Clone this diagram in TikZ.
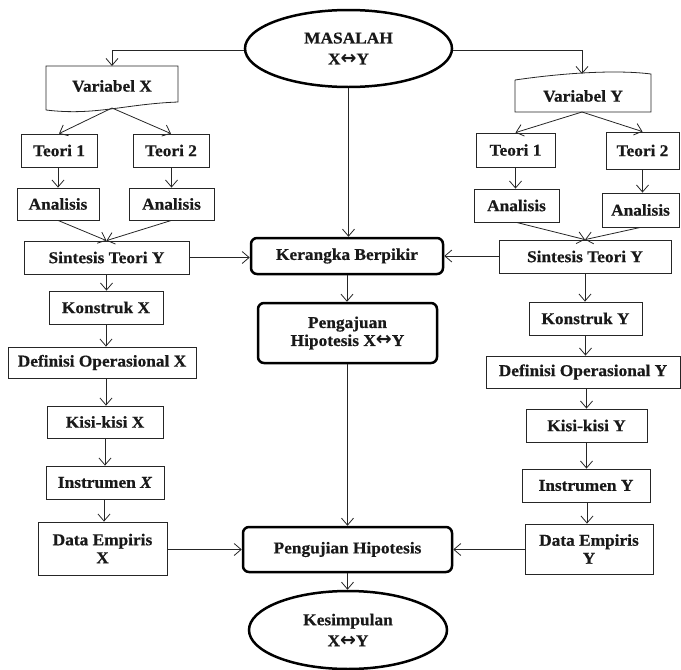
\documentclass[tikz,border=0pt]{standalone}
\usepackage{fontspec}
\setmainfont{Liberation Serif}[FakeStretch=1.05,FakeBold=0.6]
\newfontfamily\arrowfont{DejaVu Sans}
\usetikzlibrary{arrows.meta,shapes.geometric}

% bold two-headed arrow used between X and Y
\newcommand{\xyarrow}{{\arrowfont\bfseries\fontsize{19}{19}\selectfont ↔}}

\tikzset{
  lbl/.style={font=\fontsize{16.5}{18}\selectfont\bfseries, align=center, inner sep=0pt, text=black!90},
  box/.style={lbl, draw=black!85, line width=0.8pt},
  bold box/.style={lbl, draw=black, line width=2.5pt, rounded corners=6pt},
  oval/.style={lbl, ellipse, draw=black, line width=2.5pt, font=\fontsize{16.5}{21}\selectfont\bfseries},
  flow/.style={draw=black!85, line width=0.8pt, -{Straight Barb[length=7pt,width=12pt]}},
  wave/.style={draw=black!85, line width=0.8pt},
}

\begin{document}
\begin{tikzpicture}[x=1pt,y=-1pt]
\useasboundingbox (0,0) rectangle (681,670);

% ---- centre column
\node[oval, minimum width=207, minimum height=77] (mas) at (348.5,48.5) {MASALAH\\X\xyarrow Y};
\node[bold box, minimum width=192, minimum height=36] (ker) at (347,256) {Kerangka Berpikir};
\node[bold box, minimum width=179, minimum height=60] (peng) at (347.5,333) {Pengajuan\\Hipotesis X\xyarrow Y};
\node[bold box, minimum width=209, minimum height=45] (uji) at (347.5,549.5) {Pengujian Hipotesis};
\node[oval, minimum width=198, minimum height=78] (kes) at (348,630) {Kesimpulan\\X\xyarrow Y};

% ---- variable X column
\node[lbl, minimum width=132, minimum height=44] (varX) at (112,86) {Variabel X};
\draw[wave] (46,110) -- (46,66) -- (178,66) -- (178,102)
  .. controls (125,104) and (95,116) .. (46,110);
\coordinate (varXb) at (112,108);
\coordinate (varXt) at (112,66);

\node[box, minimum width=76, minimum height=33] (t1x) at (59,150.5) {Teori 1};
\node[box, minimum width=76, minimum height=33] (t2x) at (171,150.5) {Teori 2};
\node[box, minimum width=82, minimum height=32] (a1x) at (58,204) {Analisis};
\node[box, minimum width=85, minimum height=32] (a2x) at (171.5,204) {Analisis};
\node[box, minimum width=165, minimum height=33] (sx) at (106.5,257.5) {Sintesis Teori Y};
\node[box, minimum width=114, minimum height=33] (kx) at (106,307.5) {Konstruk X};
\node[box, minimum width=188, minimum height=31] (dx) at (102,362.5) {Definisi Operasional X};
\node[box, minimum width=116, minimum height=32] (kisx) at (105,422) {Kisi-kisi X};
\node[box, minimum width=118, minimum height=33] (ix) at (105,482.5) {Instrumen \textit{X}};
\node[box, minimum width=129, minimum height=53] (dex) at (102.5,548.5) {Data Empiris\\X};

% ---- variable Y column
\node[lbl, minimum width=136, minimum height=36] (varY) at (583,96) {Variabel Y};
\draw[wave] (515,80) -- (515,112) -- (651,112) -- (651,74)
  .. controls (620,70) and (570,72) .. (515,80);
\coordinate (varYt) at (582,74);
\coordinate (varYb) at (582,112);

\node[box, minimum width=79, minimum height=34] (t1y) at (515.5,150) {Teori 1};
\node[box, minimum width=73, minimum height=37] (t2y) at (642.5,150.5) {Teori 2};
\node[box, minimum width=85, minimum height=33] (a1y) at (516.5,205.5) {Analisis};
\node[box, minimum width=77, minimum height=34] (a2y) at (640.5,210) {Analisis};
\node[box, minimum width=172, minimum height=33] (sy) at (585,256.5) {Sintesis Teori Y};
\node[box, minimum width=113, minimum height=33] (ky) at (585.5,318.5) {Konstruk Y};
\node[box, minimum width=194, minimum height=32] (dy) at (583,372) {Definisi Operasional Y};
\node[box, minimum width=121, minimum height=33] (kisy) at (586.5,425.5) {Kisi-kisi Y};
\node[box, minimum width=128, minimum height=33] (iy) at (586,485.5) {Instrumen Y};
\node[box, minimum width=128, minimum height=50] (dey) at (589,549) {Data Empiris\\Y};

% ---- connectors from the problem oval
\draw[flow] (mas.west |- 0,50) -| (varXt);
\draw[flow] (mas.east |- 0,50) -| (varYt);
\draw[flow] (mas.south) -- (mas.south |- ker.north);

% ---- left branch
\draw[flow] (varXb) -- (t1x.north);
\draw[flow] (varXb) -- (t2x.north);
\draw[flow] (t1x.south -| a1x.north) -- (a1x.north);
\draw[flow] (t2x.south -| a2x.north) -- (a2x.north);
\draw[flow] (a1x.south) -- (sx.north);
\draw[flow] (a2x.south) -- (sx.north);
\draw[flow] (sx.south) -- (sx.south |- kx.north);
\draw[flow] (kx.south) -- (kx.south |- dx.north);
\draw[flow] (kx.south |- dx.south) -- (kx.south |- kisx.north);
\draw[flow] (kisx.south) -- (kisx.south |- ix.north);
\draw[flow] ([xshift=-1pt]ix.south) -- ([xshift=-1pt]ix.south |- dex.north);
\draw[flow] (sx.east) -- (sx.east -| ker.west);
\draw[flow] (dex.east |- uji.west) -- (uji.west);

% ---- right branch
\draw[flow] (varYb) -- (t1y.north);
\draw[flow] (varYb) -- (t2y.north);
\draw[flow] (t1y.south) -- (t1y.south |- a1y.north);
\draw[flow] (t2y.south) -- (t2y.south |- a2y.north);
\draw[flow] (a1y.south) -- (sy.north);
\draw[flow] (a2y.south) -- (sy.north);
\draw[flow] (sy.south) -- (sy.south |- ky.north);
\draw[flow] (ky.south) -- (ky.south |- dy.north);
\draw[flow] (kisy.north |- dy.south) -- (kisy.north);
\draw[flow] (kisy.south) -- (kisy.south |- iy.north);
\draw[flow] ([xshift=1pt]iy.south) -- ([xshift=1pt]iy.south |- dey.north);
\draw[flow] (sy.west |- ker.east) -- (ker.east);
\draw[flow] (dey.west |- uji.east) -- (uji.east);

% ---- centre chain
\draw[flow] (ker.south) -- (ker.south |- peng.north);
\draw[flow] (peng.south) -- (peng.south |- uji.north);
\draw[flow] (uji.south) -- (uji.south |- kes.north);
\end{tikzpicture}
\end{document}
